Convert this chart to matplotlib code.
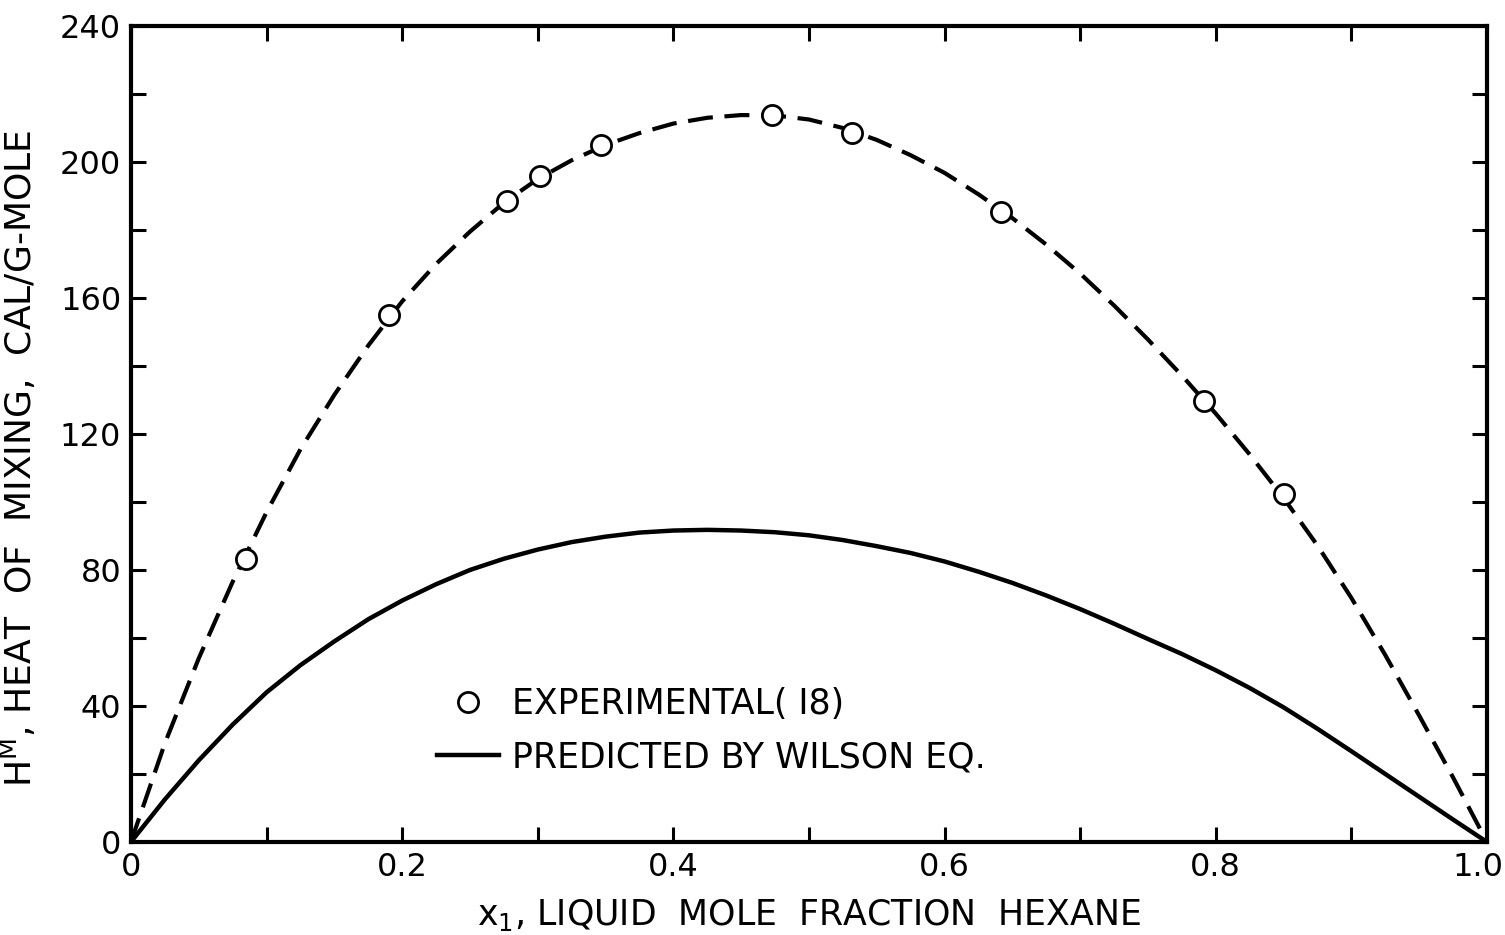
import matplotlib
matplotlib.use('Agg')
import matplotlib.pyplot as plt
from matplotlib.lines import Line2D
from matplotlib.transforms import ScaledTranslation

# experimental points (ref. 18)
exp_x = [0.085, 0.1905, 0.2775, 0.302, 0.3466, 0.473, 0.532, 0.642, 0.791, 0.850]
exp_y = [83.1, 154.9, 188.6, 195.9, 205.0, 213.8, 208.5, 185.4, 129.8, 102.3]

# curve drawn through the experimental data (dashed)
fit_x = [0.0, 0.025, 0.05, 0.075, 0.1, 0.125, 0.15, 0.175, 0.2, 0.225, 0.25,
         0.275, 0.3, 0.325, 0.35, 0.375, 0.4, 0.425, 0.45, 0.475, 0.5,
         0.525, 0.55, 0.575, 0.6, 0.625, 0.65, 0.675, 0.7, 0.725, 0.75,
         0.775, 0.8, 0.825, 0.85, 0.875, 0.9, 0.925, 0.95, 0.975, 1.0]
fit_y = [0.0, 29.0, 54.0, 76.5, 97.0, 115.5, 131.5, 146.0, 159.0, 170.0, 179.5,
         188.0, 195.0, 200.5, 205.0, 208.5, 211.3, 213.0, 213.8, 213.7, 212.5,
         210.0, 206.5, 202.0, 196.8, 190.5, 183.5, 175.7, 167.2, 157.8, 147.8,
         137.2, 126.0, 114.0, 101.2, 87.2, 71.8, 55.0, 37.2, 19.0, 0.0]

# predicted by the Wilson equation (solid)
wil_x = fit_x
wil_y = [0.0, 12.5, 24.0, 34.5, 44.0, 52.0, 59.0, 65.5, 71.0, 75.8, 80.0,
         83.3, 86.0, 88.2, 89.8, 91.0, 91.6, 91.8, 91.6, 91.1, 90.2,
         88.8, 87.0, 85.0, 82.5, 79.5, 76.2, 72.5, 68.5, 64.2, 59.7,
         55.3, 50.5, 45.3, 39.6, 33.3, 26.7, 20.0, 13.3, 6.6, 0.0]

x_ticks = [0, 0.2, 0.4, 0.6, 0.8, 1.0]
x_tick_labels = ['0', '0.2', '0.4', '0.6', '0.8', '1.0']
y_ticks = [0, 40, 80, 120, 160, 200, 240]

fig = plt.figure(figsize=(15.05, 9.35), dpi=100)
ax = fig.add_axes([0.087, 0.0995, 0.901, 0.8727])

ax.plot(fit_x, fit_y, color='black', lw=3, ls=(0, (6, 2.8)), dash_capstyle='butt')
ax.plot(wil_x, wil_y, color='black', lw=3.2)
ax.plot(exp_x, exp_y, ls='none', marker='o', ms=14.5, mfc='white', mec='black',
        mew=2, zorder=5)

ax.set_xlim(0, 1.0)
ax.set_ylim(0, 240)
ax.set_xticks(x_ticks)
ax.set_xticklabels(x_tick_labels)
ax.set_xticks([0.1, 0.3, 0.5, 0.7, 0.9], minor=True)
ax.set_yticks(y_ticks)
ax.set_yticks([20, 60, 100, 140, 180, 220], minor=True)

for s in ax.spines.values():
    s.set_linewidth(3)
ax.tick_params(which='both', direction='in', length=10.5, width=2.2,
               top=True, right=True, labelsize=23, pad=7)

# nudge the last x label so it stays on the page
last = ax.xaxis.get_major_ticks()[-1].label1
last.set_transform(last.get_transform() + ScaledTranslation(-0.09, 0, fig.dpi_scale_trans))

ax.set_xlabel('x$_{\\mathregular{1}}$, LIQUID  MOLE  FRACTION  HEXANE',
              fontsize=25, labelpad=10)
ax.set_ylabel('H$^{\\mathregular{M}}$, HEAT  OF  MIXING,  CAL/G-MOLE', fontsize=26)
ax.yaxis.set_label_coords(-0.068, 0.47)

handles = [Line2D([], [], ls='none', marker='o', ms=14.5, mfc='white', mec='black', mew=2),
           Line2D([], [], color='black', lw=3.2)]
ax.legend(handles, ['EXPERIMENTAL( I8)', 'PREDICTED BY WILSON EQ.'],
          loc='upper left', bbox_to_anchor=(0.2257, 0.19), frameon=False,
          borderpad=0, borderaxespad=0, handlelength=1.8, handletextpad=0.35,
          labelspacing=0.55, prop={'size': 25})

fig.savefig('out.png', dpi=100)
